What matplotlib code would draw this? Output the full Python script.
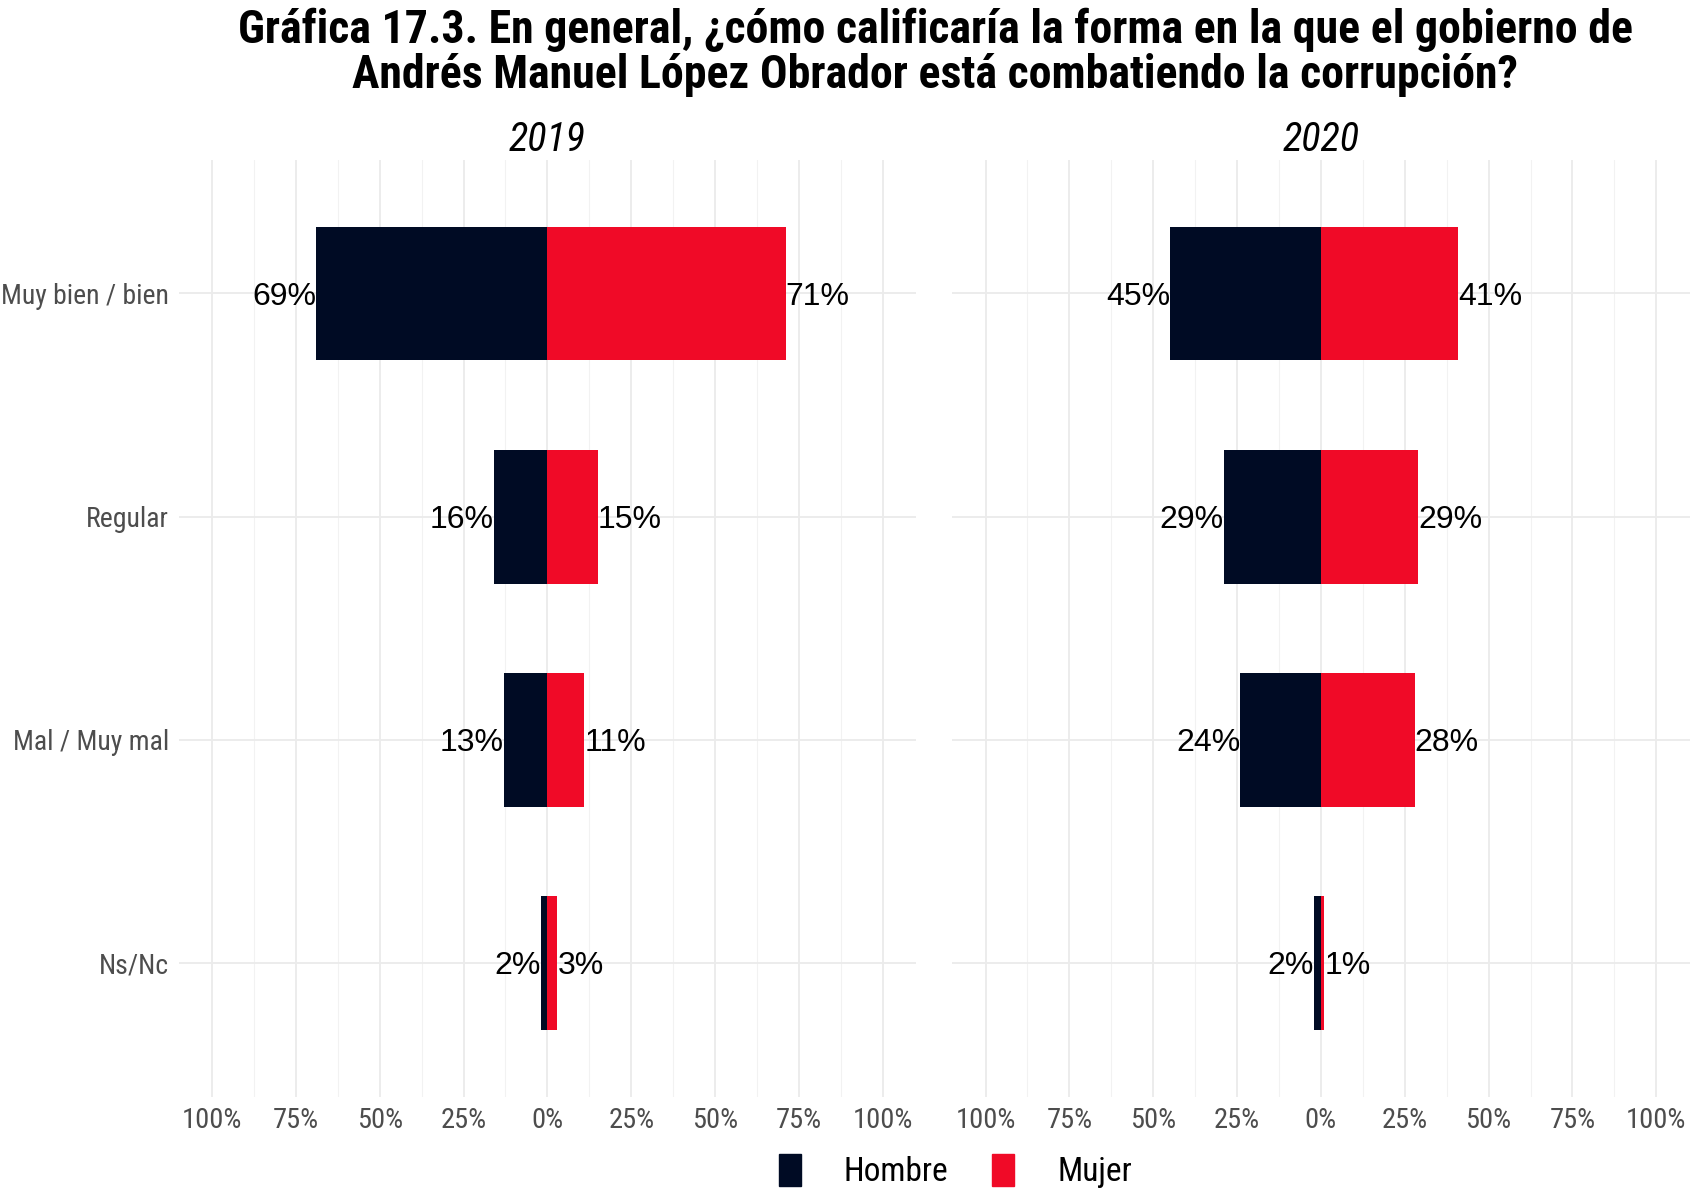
import matplotlib
matplotlib.use('Agg')
import matplotlib.pyplot as plt
from matplotlib.patches import Patch
from matplotlib import font_manager

categories = ['Muy bien / bien', 'Regular', 'Mal / Muy mal', 'Ns/Nc']
years = ['2019', '2020']
hombre = {'2019': [69, 16, 13, 2], '2020': [45, 29, 24, 2]}
mujer = {'2019': [71, 15, 11, 3], '2020': [41, 29, 28, 1]}
ticks = [-100, -75, -50, -25, 0, 25, 50, 75, 100]
tick_labels = ['100%', '75%', '50%', '25%', '0%', '25%', '50%', '75%', '100%']

navy = '#000B24'
red = '#F00A27'

# pick a condensed family if one is installed
names = sorted({f.name for f in font_manager.fontManager.ttflist})
cand = ['Roboto Condensed', 'Liberation Sans Narrow', 'DejaVu Sans Condensed',
        'Open Sans Condensed', 'Noto Sans Condensed', 'Roboto']
narrow_name = next(c for c in cand if c in names)
narrow = [narrow_name, 'DejaVu Sans']

fig = plt.figure(figsize=(17, 12), dpi=100)
axes = [fig.add_axes([0.105, 0.086, 0.434, 0.781]),
        fig.add_axes([0.560, 0.086, 0.434, 0.781])]

for ax, yr in zip(axes, years):
    y = list(range(len(categories)))
    h = [-v for v in hombre[yr]]
    ax.barh(y, h, height=0.6, color=navy, zorder=3)
    ax.barh(y, mujer[yr], height=0.6, color=red, zorder=3)
    for yi, v in zip(y, hombre[yr]):
        ax.text(-v, yi, f'{v}%', ha='right', va='center_baseline', fontsize=23,
                family='Liberation Sans', color='black', zorder=4)
    for yi, v in zip(y, mujer[yr]):
        ax.text(v, yi, f'{v}%', ha='left', va='center_baseline', fontsize=23,
                family='Liberation Sans', color='black', zorder=4)
    ax.set_xlim(-110, 110)
    ax.set_ylim(len(categories) - 0.4, -0.6)
    ax.set_xticks(ticks)
    ax.set_xticklabels(tick_labels, family=narrow, fontsize=20.5, color='#4D4D4D')
    ax.set_xticks([t + 12.5 for t in ticks[:-1]], minor=True)
    ax.set_yticks(y)
    if yr == '2019':
        ax.set_yticklabels(categories, family=narrow, fontsize=20, color='#4D4D4D')
    else:
        ax.set_yticklabels([])
    ax.tick_params(length=0, which='both', pad=7)
    ax.grid(True, which='major', color='#EBEBEB', lw=1.3, zorder=0)
    ax.grid(True, which='minor', axis='x', color='#F2F2F2', lw=0.8, zorder=0)
    for s in ax.spines.values():
        s.set_visible(False)
    ax.set_title(yr, family=narrow, style='italic', fontsize=29, pad=6)

fig.text(0.55, 0.994, 'Gráfica 17.3. En general, ¿cómo calificaría la forma en la que el gobierno de\n'
         'Andrés Manuel López Obrador está combatiendo la corrupción?',
         ha='center', va='top', family=narrow, weight='bold', fontsize=33, linespacing=1.05)

handles = [Patch(color=navy, label='Hombre'), Patch(color=red, label='Mujer')]
fig.legend(handles=handles, loc='center', bbox_to_anchor=(0.562, 0.024), ncol=2, frameon=False,
           prop={'family': narrow, 'size': 24}, handlelength=0.65, handleheight=1.1,
           handletextpad=1.3, columnspacing=1.3)

fig.savefig('out.png', dpi=100)
